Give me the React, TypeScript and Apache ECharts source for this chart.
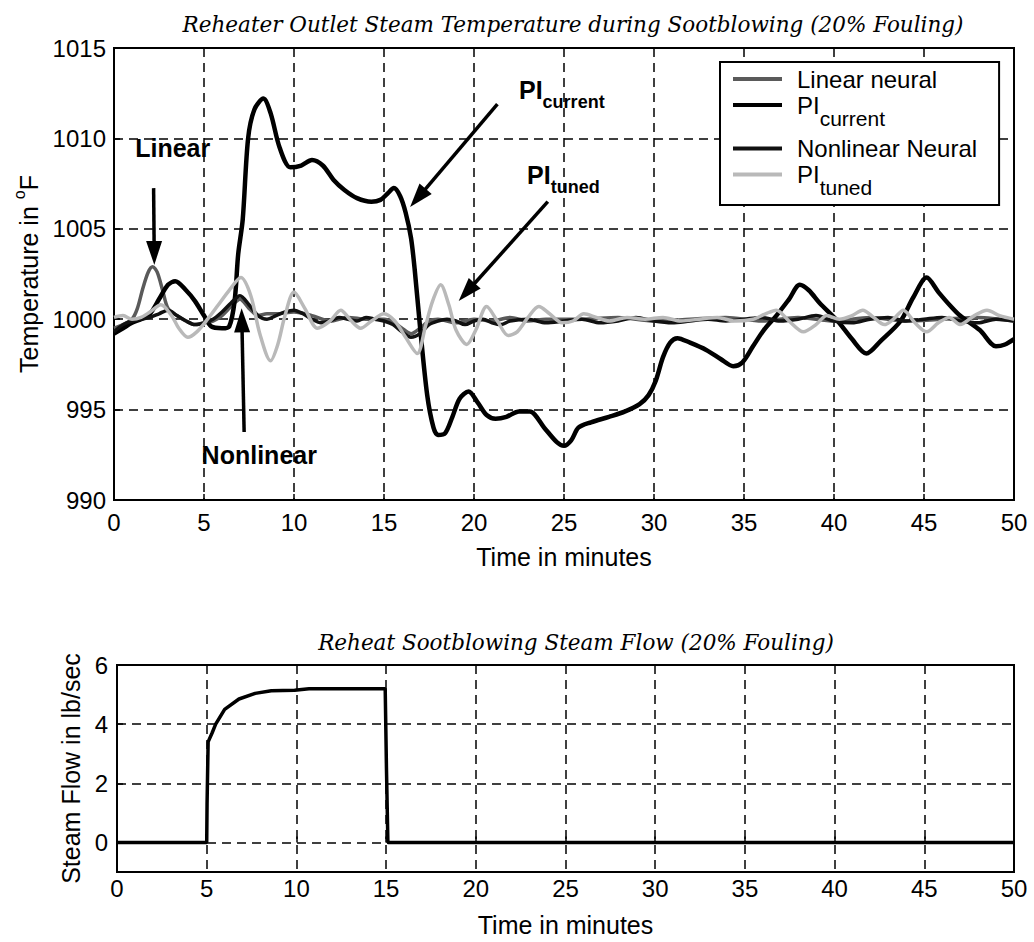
import React, { useEffect, useRef } from "react";
import * as echarts from "echarts";

// ---- Reheater outlet steam temperature (deg F) vs time (min) ----
const linearNeural: [number, number][] = [
  [0, 999.5], [0.5, 999.7], [1.0, 1000.0], [1.3, 1000.6], [1.6, 1001.7], [1.9, 1002.6],
  [2.15, 1002.9], [2.4, 1002.6], [2.7, 1001.6], [3.0, 1000.6], [3.5, 1000.2], [4.0, 999.9],
  [4.5, 999.7], [5.0, 999.8], [5.5, 999.9], [6.0, 1000.2], [6.5, 1000.7], [7.0, 1001.1],
  [7.5, 1000.6], [8.0, 1000.2], [8.5, 1000.3], [9.0, 1000.3], [10.0, 1000.4], [11.0, 1000.2],
  [12.0, 999.9], [13.0, 1000.1], [14.0, 1000.0], [15.0, 1000.0], [15.6, 999.8], [16.0, 999.5],
  [16.5, 999.2], [17.0, 999.5], [17.5, 999.9], [18.0, 1000.0], [19, 999.8], [20, 1000.0],
  [21, 999.9], [22, 1000.1], [23, 999.9], [24, 1000.0], [26, 1000.0], [28, 1000.1],
  [30, 999.9], [32, 1000.0], [34, 1000.1], [36, 999.9], [38, 1000.1], [40, 999.9],
  [42, 1000.1], [44, 999.9], [46, 1000.0], [48, 1000.1], [50, 999.9],
];

const piCurrent: [number, number][] = [
  [0, 999.2], [0.5, 999.5], [1, 999.8], [1.5, 1000.0], [2, 1000.3], [2.5, 1001.1], [3, 1001.9],
  [3.4, 1002.1], [4, 1001.6], [4.5, 1001.0], [5, 1000.2], [5.4, 999.6], [6, 999.5], [6.4, 999.6],
  [6.7, 1001.0], [6.9, 1003.6], [7.15, 1005.5], [7.45, 1010.0], [7.8, 1011.6], [8.3, 1012.2],
  [8.7, 1011.4], [9.2, 1009.5], [9.8, 1008.4], [10.4, 1008.5], [11.0, 1008.8], [11.6, 1008.5],
  [12.2, 1007.7], [12.8, 1007.15], [13.5, 1006.7], [14.3, 1006.5], [14.8, 1006.6], [15.2, 1006.95],
  [15.55, 1007.25], [15.9, 1006.8], [16.2, 1005.9], [16.5, 1004.5], [16.7, 1002.8], [17.0, 999.6],
  [17.4, 995.8], [17.75, 994.0], [18.0, 993.6], [18.4, 993.7], [18.8, 994.6], [19.2, 995.6],
  [19.7, 996.0], [20.2, 995.4], [20.7, 994.7], [21.2, 994.5], [21.8, 994.6], [22.5, 994.9],
  [23.1, 994.9], [23.9, 994.0], [24.6, 993.2], [25.0, 993.0], [25.4, 993.3], [25.8, 994.0],
  [26.5, 994.3], [27.5, 994.6], [28.4, 994.9], [29.2, 995.3], [29.7, 995.8], [30.1, 996.6],
  [30.5, 997.9], [30.9, 998.7], [31.3, 998.95], [32.0, 998.7], [32.9, 998.3], [33.7, 997.8],
  [34.4, 997.4], [34.9, 997.6], [35.5, 998.5], [36.1, 999.4], [36.8, 1000.2], [37.5, 1001.1],
  [38.1, 1001.9], [38.6, 1001.6], [39.2, 1000.9], [40.2, 999.9], [41.0, 998.9], [41.8, 998.1],
  [42.6, 998.8], [43.7, 999.9], [44.4, 1001.2], [45.15, 1002.3], [45.8, 1001.5], [46.5, 1000.7],
  [47.0, 1000.2], [48.1, 999.4], [49.0, 998.5], [49.5, 998.6], [50, 998.9],
];

const nonlinearNeural: [number, number][] = [
  [0, 999.3], [0.5, 999.7], [1.0, 999.9], [1.5, 1000.0], [2.0, 1000.1], [2.5, 1000.3], [3.0, 1000.5],
  [3.5, 1000.2], [4.0, 999.9], [4.5, 999.7], [5.0, 999.8], [5.5, 1000.0], [6.0, 1000.4], [6.5, 1000.9],
  [7.0, 1001.3], [7.5, 1000.8], [8.0, 1000.2], [8.5, 1000.0], [9.0, 1000.2], [9.5, 1000.4],
  [10.0, 1000.5], [10.5, 1000.3], [11.0, 1000.0], [11.5, 999.8], [12.0, 999.9], [12.5, 1000.1],
  [13.0, 1000.0], [13.5, 999.9], [14.0, 1000.1], [14.5, 1000.0], [15.0, 999.9], [15.5, 999.7],
  [16.0, 999.3], [16.5, 999.0], [17.0, 999.2], [17.5, 999.7], [18.0, 999.9], [18.5, 1000.0],
  [19.0, 999.9], [19.5, 999.7], [20.0, 999.9], [20.5, 1000.0], [21.0, 999.8], [21.5, 999.7],
  [22, 999.9], [23, 1000.0], [24, 999.8], [25, 999.9], [26, 1000.0], [27, 999.8], [28, 999.9],
  [29, 1000.1], [30, 999.9], [31, 999.8], [32, 999.9], [33, 1000.0], [34, 999.9], [35, 1000.0],
  [36, 1000.1], [37, 999.9], [38, 1000.0], [39, 1000.2], [40, 999.9], [41, 999.8], [42, 1000.0],
  [43, 1000.1], [44, 999.9], [45, 1000.0], [46, 1000.1], [47, 999.9], [48, 999.8], [49, 1000.0],
  [50, 999.9],
];

const piTuned: [number, number][] = [
  [0, 1000.1], [0.5, 1000.2], [1.0, 1000.0], [1.5, 1000.1], [2.0, 1000.4], [2.6, 1000.8],
  [3.2, 1000.2], [3.6, 999.5], [4.1, 999.0], [4.6, 999.3], [5.2, 1000.0], [5.8, 1000.8],
  [6.4, 1001.6], [7.05, 1002.3], [7.6, 1001.3], [8.1, 999.2], [8.7, 997.7], [9.1, 998.6],
  [9.5, 1000.2], [10.0, 1001.5], [10.6, 1000.6], [11.3, 999.5], [12.0, 999.9], [12.6, 1000.5],
  [13.1, 1000.0], [13.7, 999.5], [14.3, 999.9], [15.0, 1000.3], [15.6, 999.9], [16.2, 999.0],
  [16.85, 998.1], [17.3, 999.6], [17.7, 1001.0], [18.15, 1001.9], [18.6, 1000.8], [19.0, 999.4],
  [19.6, 998.6], [20.1, 999.4], [20.7, 1000.7], [21.3, 999.9], [21.9, 999.1], [22.4, 999.3],
  [23.0, 1000.1], [23.6, 1000.7], [24.2, 1000.3], [24.9, 999.8], [25.5, 999.9], [26.1, 1000.3],
  [26.8, 1000.1], [27.5, 999.9], [28.5, 1000.1], [29.5, 1000.0], [30.5, 1000.1], [31.5, 999.9],
  [32.5, 1000.0], [33.5, 1000.1], [34.5, 999.9], [35.5, 1000.0], [36.2, 1000.3], [36.8, 1000.5],
  [37.5, 999.9], [38.3, 999.3], [39.0, 999.7], [39.6, 1000.2], [40.3, 1000.0], [41.0, 1000.2],
  [41.6, 1000.5], [42.2, 1000.1], [42.8, 999.7], [43.3, 1000.0], [43.85, 1000.5], [44.5, 999.8],
  [45.15, 999.3], [45.8, 999.8], [46.4, 1000.1], [47.0, 999.7], [47.8, 1000.2], [48.5, 1000.5],
  [49.2, 1000.2], [50, 1000.0],
];

// ---- Sootblowing steam flow (lb/sec) vs time (min) ----
const steamFlow: [number, number][] = [
  [0, 0], [5.0, 0], [5.02, 1.3], [5.08, 3.4], [5.3, 3.7], [5.5, 4.0], [6.0, 4.5], [6.8, 4.85],
  [7.7, 5.04], [8.6, 5.13], [9.9, 5.15], [10.7, 5.2], [14.95, 5.2], [15.02, 2.5], [15.1, 0], [50, 0],
];

const flowTicks = [0, 2, 4, 6];

// Annotation arrows [from, tip] and labels, in data units of the temperature plot
const arrowLinear: [number, number][] = [[2.2, 1007.25], [2.24, 1003.0]];
const arrowPiCurrent: [number, number][] = [[21.3, 1011.9], [16.45, 1006.2]];
const arrowPiTuned: [number, number][] = [[24.1, 1006.5], [19.15, 1001.0]];
const arrowNonlinear: [number, number][] = [[7.23, 993.76], [7.09, 1000.6]];

const labelLinear: [number, number] = [3.26, 1009.4];
const labelPiCurrent: [number, number] = [22.5, 1012.6];
const labelPiTuned: [number, number] = [22.95, 1007.9];
const labelNonlinear: [number, number] = [8.07, 992.38];

const SANS = "'Liberation Sans', Arial, sans-serif";
const SERIF = "'DejaVu Serif', serif";

const gridLine = { show: true, lineStyle: { color: "#000", type: [9, 6] as number[], width: 1.5 } };
const tick = { show: true, inside: true, length: 6, lineStyle: { color: "#000", width: 1.5 } };
const tickLabel = { color: "#000", fontFamily: SANS, fontSize: 24, formatter: (v: number) => String(v) };

const legendNames: Record<string, string> = {
  "Linear neural": "{g|}{m|Linear neural}",
  "PI current": "{g|}{p|PI}{s|current}",
  "Nonlinear Neural": "{g|}{m|Nonlinear Neural}",
  "PI tuned": "{g|}{p|PI}{s|tuned}",
};

export default function App() {
  const ref = useRef<HTMLDivElement>(null);

  useEffect(() => {
    if (!ref.current) return;
    const chart = echarts.init(ref.current, undefined, { renderer: "svg" });

    const line = (name: string, data: [number, number][], color: string, width: number) => ({
      name,
      type: "line",
      xAxisIndex: 0,
      yAxisIndex: 0,
      data,
      symbol: "none",
      showSymbol: false,
      smooth: 0.3,
      lineStyle: { color, width },
      itemStyle: { color },
    });

    const titleStyle = { fontFamily: SERIF, fontStyle: "italic", fontWeight: "normal", fontSize: 21.5, color: "#000" };

    chart.setOption({
      animation: false,
      backgroundColor: "#fff",
      title: [
        {
          text: "Reheater Outlet Steam Temperature during Sootblowing (20% Fouling)",
          left: 568,
          top: 8,
          textAlign: "center",
          textStyle: titleStyle,
        },
        {
          text: "Reheat Sootblowing Steam Flow (20% Fouling)",
          left: 571,
          top: 626,
          textAlign: "center",
          textStyle: titleStyle,
        },
      ],
      grid: [
        { left: 114, top: 48, width: 900, height: 452, show: true, borderColor: "#000", borderWidth: 2 },
        { left: 117, top: 665, width: 897, height: 207, show: true, borderColor: "#000", borderWidth: 2 },
      ],
      legend: {
        left: 720,
        top: 62,
        orient: "vertical",
        icon: "rect",
        itemWidth: 49,
        itemHeight: 4,
        itemGap: 2,
        padding: [5, 22, 1, 13],
        backgroundColor: "#fff",
        borderColor: "#000",
        borderWidth: 2,
        borderRadius: 0,
        data: Object.keys(legendNames),
        formatter: (name: string) => legendNames[name],
        textStyle: {
          color: "#000",
          fontFamily: SANS,
          rich: {
            g: { width: 10 },
            m: { fontFamily: SANS, fontSize: 24, lineHeight: 26, color: "#000" },
            p: { fontFamily: SANS, fontSize: 24, lineHeight: 24, verticalAlign: "top", color: "#000" },
            s: { fontFamily: SANS, fontSize: 21, lineHeight: 21, padding: [14.5, 0, 6, 0], verticalAlign: "top", color: "#000" },
          },
        },
      },
      xAxis: [
        {
          gridIndex: 0,
          type: "value",
          min: 0,
          max: 50,
          interval: 5,
          axisLine: { show: false },
          axisTick: tick,
          axisLabel: { ...tickLabel, margin: 10 },
          splitLine: gridLine,
          name: "Time in minutes",
          nameLocation: "middle",
          nameGap: 44,
          nameTextStyle: { color: "#000", fontFamily: SANS, fontSize: 25 },
        },
        {
          gridIndex: 1,
          type: "value",
          min: 0,
          max: 50,
          interval: 5,
          axisLine: { show: false },
          axisTick: tick,
          axisLabel: { ...tickLabel, margin: 4 },
          splitLine: gridLine,
          name: "Time in minutes",
          nameLocation: "middle",
          nameGap: 40,
          nameTextStyle: { color: "#000", fontFamily: SANS, fontSize: 25 },
        },
      ],
      yAxis: [
        {
          gridIndex: 0,
          type: "value",
          min: 990,
          max: 1015,
          interval: 5,
          axisLine: { show: false },
          axisTick: tick,
          axisLabel: { ...tickLabel, margin: 8 },
          splitLine: gridLine,
          name: "{n|Temperature in }{u|o}{n|F}",
          nameLocation: "middle",
          nameGap: 70,
          nameTextStyle: {
            color: "#000",
            rich: {
              n: { fontFamily: SANS, fontSize: 25, lineHeight: 30, verticalAlign: "bottom", color: "#000" },
              u: { fontFamily: SANS, fontSize: 16, lineHeight: 16, verticalAlign: "top", color: "#000" },
            },
          },
        },
        {
          gridIndex: 1,
          type: "value",
          min: -1,
          max: 6,
          axisLine: { show: false },
          axisTick: { ...tick, customValues: flowTicks },
          axisLabel: { ...tickLabel, margin: 9, customValues: flowTicks },
          splitLine: gridLine,
          name: "Steam Flow in lb/sec",
          nameLocation: "middle",
          nameGap: 34,
          nameTextStyle: { color: "#000", fontFamily: SANS, fontSize: 25 },
        },
      ],
      series: [
        line("Linear neural", linearNeural, "#5a5a5a", 3.5),
        line("PI current", piCurrent, "#000", 4.5),
        line("Nonlinear Neural", nonlinearNeural, "#111", 3.5),
        line("PI tuned", piTuned, "#b9b9b9", 3.5),
        {
          name: "Steam flow",
          type: "line",
          xAxisIndex: 1,
          yAxisIndex: 1,
          data: steamFlow,
          symbol: "none",
          showSymbol: false,
          lineStyle: { color: "#000", width: 3.5 },
          itemStyle: { color: "#000" },
        },
      ],
    });

    // Arrows and callout labels placed through the temperature plot's own scales
    const toPx = (p: [number, number]) => chart.convertToPixel({ gridIndex: 0 }, p) as number[];
    const arrow = (seg: [number, number][]) => {
      const a = toPx(seg[0]);
      const b = toPx(seg[1]);
      const dx = b[0] - a[0];
      const dy = b[1] - a[1];
      const len = Math.hypot(dx, dy);
      const ux = dx / len;
      const uy = dy / len;
      const head = 24;
      const half = 8;
      const bx = b[0] - ux * head;
      const by = b[1] - uy * head;
      return [
        {
          type: "line",
          shape: { x1: a[0], y1: a[1], x2: bx + ux * 2, y2: by + uy * 2 },
          style: { stroke: "#000", lineWidth: 3.5 },
          z: 100,
        },
        {
          type: "polygon",
          shape: {
            points: [
              [b[0], b[1]],
              [bx - uy * half, by + ux * half],
              [bx + uy * half, by - ux * half],
            ],
          },
          style: { fill: "#000" },
          z: 100,
        },
      ];
    };
    const bold = { fontFamily: SANS, fontWeight: "bold", fontSize: 25, fill: "#000" };
    const label = (p: [number, number], text: string, align: string) => {
      const q = toPx(p);
      return {
        type: "text",
        x: q[0],
        y: q[1],
        z: 100,
        style: {
          text,
          align,
          verticalAlign: "middle",
          ...bold,
          rich: {
            n: { ...bold, lineHeight: 28, verticalAlign: "top" },
            s: { fontFamily: SANS, fontWeight: "bold", fontSize: 18, fill: "#000", lineHeight: 18, padding: [16, 0, 0, 0], verticalAlign: "top" },
          },
        },
      };
    };

    chart.setOption({
      graphic: [
        ...arrow(arrowLinear),
        ...arrow(arrowPiCurrent),
        ...arrow(arrowPiTuned),
        ...arrow(arrowNonlinear),
        label(labelLinear, "{n|Linear}", "center"),
        label(labelPiCurrent, "{n|PI}{s|current}", "left"),
        label(labelPiTuned, "{n|PI}{s|tuned}", "left"),
        label(labelNonlinear, "{n|Nonlinear}", "center"),
      ],
    });

    return () => chart.dispose();
  }, []);

  return (
    <div
      ref={ref}
      style={{ position: "fixed", left: 0, top: 0, width: 1034, height: 942, background: "#fff" }}
    />
  );
}
